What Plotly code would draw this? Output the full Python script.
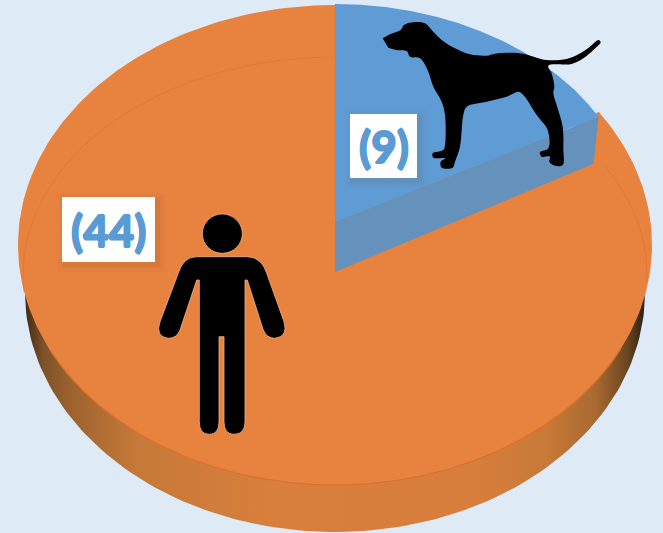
import numpy as np
import plotly.graph_objects as go

# ---- data ----
categories = ["dog", "human"]
values = [9, 44]
labels = ["(9)", "(44)"]

W, H = 663, 533
BG = "#deeaf6"
ORANGE = "#e7833f"
ORANGE_EDGE = "#d9722c"
BLUE = "#5f9cd6"
BLUE_WALL = "#6492bc"
TEXT_BLUE = "#5b9bd5"

# pie geometry in picture pixels (projected tilted disc)
CX = 335
TOP = dict(cy=245, rx=317, ry=240)
RIM = dict(cy=292, rx=310, ry=240)
LIFT = dict(cy=222, rx=301, ry=218)   # raised dog slice
RING = dict(cy=275, rx=312, ry=218)
WALL_H, WALL_H_END, WALL_IN = 50, 47, 5

blue_end = 2 * np.pi * values[0] / sum(values)


def ell(e, a0, a1, n=240):
    t = np.linspace(a0, a1, n)
    return CX + e["rx"] * np.sin(t), e["cy"] - e["ry"] * np.cos(t)


# outlines (zoomed-crop pixel coordinates of the silhouettes)
dog_zoom = [(8,70),(30,58),(62,45),(72,30),(100,22),(135,25),(155,45),(185,75),(225,100),(270,118),
            (320,122),(345,116),(420,115),(470,128),(500,135),(560,132),(595,118),(630,95),(655,75),
            (662,82),(640,105),(610,130),(575,147),(505,152),(515,175),(523,215),(520,235),(530,270),
            (548,335),(550,400),(548,450),(525,452),(508,440),(510,425),(485,425),(480,412),(505,400),
            (503,345),(470,300),(430,240),(415,230),(380,245),(320,260),(260,275),(250,300),(240,395),
            (225,440),(218,458),(185,458),(182,440),(195,430),(160,428),(158,415),(190,405),(195,390),
            (195,300),(185,260),(160,215),(145,170),(120,130),(90,125),(80,108),(50,105),(25,98)]
dog_x = [380 + p[0] / 3 for p in dog_zoom]
dog_y = [15 + p[1] / 3 for p in dog_zoom]


def pz(x, y):
    return f"{150 + x / 3:.1f},{205 + y / 3:.1f}"


person_path = (
    f"M{pz(140,155)} L{pz(290,155)} Q{pz(335,155)} {pz(350,205)} L{pz(402,350)} "
    f"Q{pz(415,395)} {pz(375,400)} Q{pz(350,400)} {pz(340,375)} L{pz(292,225)} L{pz(285,225)} "
    f"L{pz(285,650)} Q{pz(285,688)} {pz(252,688)} Q{pz(222,688)} {pz(222,650)} L{pz(222,395)} "
    f"L{pz(207,395)} L{pz(207,650)} Q{pz(207,688)} {pz(178,688)} Q{pz(148,688)} {pz(148,650)} "
    f"L{pz(148,225)} L{pz(140,225)} L{pz(90,375)} Q{pz(80,400)} {pz(55,400)} Q{pz(15,395)} {pz(30,350)} "
    f"L{pz(85,205)} Q{pz(100,155)} {pz(140,155)} Z"
)

fig = go.Figure()


def poly(x, y, color, name, shape="linear", **kw):
    fig.add_trace(go.Scatter(x=list(x), y=list(y), mode="lines", fill="toself", fillcolor=color,
                             line=dict(width=0, color=color, shape=shape), hoverinfo="skip", name=name, **kw))


# outer side wall with horizontal shading
rx, ry = ell(RIM, 0, 2 * np.pi)
fig.add_trace(go.Scatter(
    x=rx, y=ry, mode="lines", fill="toself", line=dict(width=0, color=ORANGE), hoverinfo="skip",
    fillgradient=dict(type="horizontal", colorscale=[
        [0.0, "#3e2a18"], [0.03, "#7f5229"], [0.08, "#a0642f"], [0.18, "#c67938"], [0.4, "#d97f3d"],
        [0.72, "#d87e3c"], [0.84, "#c87a38"], [0.92, "#a96a31"], [0.97, "#6d4722"], [1.0, "#2e2013"]]),
))

# orange sector (top face)
t_orange = np.arcsin(LIFT["rx"] * np.sin(blue_end) / TOP["rx"])
ox, oy = ell(TOP, t_orange, 2 * np.pi)
poly(list(ox) + [CX], list(oy) + [LIFT["cy"] + WALL_H], ORANGE, categories[1])

# rim edge and faint inner ring
ex, ey = ell(TOP, np.pi / 2 + 0.45, 2 * np.pi - np.pi / 2 - 0.45)
fig.add_trace(go.Scatter(x=ex, y=ey, mode="lines", line=dict(width=1.2, color=ORANGE_EDGE), hoverinfo="skip"))
for a0, a1 in [(1.05, 1.6), (-1.65, 0)]:
    ix, iy = ell(RING, a0, a1)
    fig.add_trace(go.Scatter(x=ix, y=iy, mode="lines", line=dict(width=1, color="rgba(225,112,40,0.55)"),
                             hoverinfo="skip"))

# raised dog slice
bx, by = ell(LIFT, 0, blue_end)
end_x, end_y = bx[-1], by[-1]
poly([CX, end_x, end_x - WALL_IN, CX], [LIFT["cy"], end_y, end_y + WALL_H_END, LIFT["cy"] + WALL_H],
     BLUE_WALL, categories[0] + " side")
poly([CX] + list(bx), [LIFT["cy"]] + list(by), BLUE, categories[0])

# dog icon
poly(dog_x, dog_y, "#000000", "dog icon", shape="spline")

shapes = [
    # person
    dict(type="circle", xref="x", yref="y", x0=150 + 157 / 3, x1=150 + 277 / 3, y0=205 + 27 / 3, y1=205 + 145 / 3,
         fillcolor="black", line=dict(width=0.8, color="#f0b48c")),
    dict(type="path", xref="x", yref="y", path=person_path, fillcolor="black", line=dict(width=0.8, color="#f0b48c")),
]
# label boxes: soft shadows, then white boxes
boxes = [(350, 417, 114, 178), (62, 155, 197, 262)]
for x0, x1, y0, y1 in boxes:
    for grow, op in [(7, 0.03), (4, 0.04), (2, 0.05)]:
        shapes.append(dict(type="rect", xref="x", yref="y", x0=x0 - grow + 3, x1=x1 + grow + 3,
                           y0=y0 - grow + 3, y1=y1 + grow + 3, fillcolor=f"rgba(120,60,20,{op})",
                           line=dict(width=0)))
    shapes.append(dict(type="rect", xref="x", yref="y", x0=x0, x1=x1, y0=y0, y1=y1, fillcolor="white",
                       line=dict(width=0)))

thicken = ", ".join(f"{dx}px {dy}px 0 {TEXT_BLUE}" for dx, dy in [(0.8, 0), (-0.8, 0), (0, 0.8), (0, -0.8)])
annotations = [
    dict(x=(b[0] + b[1]) / 2, y=(b[2] + b[3]) / 2, xref="x", yref="y", text=t, showarrow=False,
         font=dict(family="Lato", size=44, color=TEXT_BLUE, weight=900, shadow=thicken))
    for b, t in zip(boxes, labels)
]

fig.update_layout(
    width=W, height=H, autosize=False, margin=dict(l=0, r=0, t=0, b=0),
    paper_bgcolor=BG, plot_bgcolor=BG, showlegend=False,
    xaxis=dict(range=[0, W], visible=False, fixedrange=True),
    yaxis=dict(range=[H, 0], visible=False, fixedrange=True),
    shapes=shapes, annotations=annotations,
)
fig.write_html("out.html", include_plotlyjs=True, config=dict(displayModeBar=False),
               post_script="document.body.style.margin='0';document.body.style.overflow='hidden';document.body.style.background='%s';" % BG)
